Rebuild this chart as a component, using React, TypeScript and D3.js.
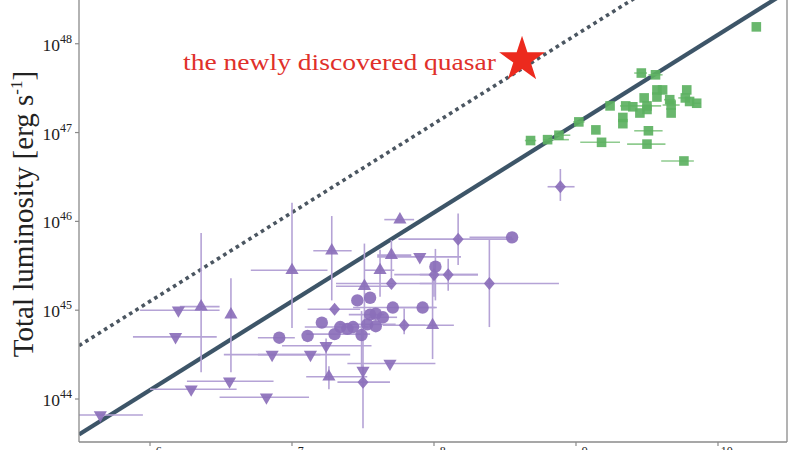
import * as d3 from "d3";

// log10 black hole mass / log10 luminosity, errors in dex: [logM, logL, xLo, xHi, yLo, yHi]
const purpleCircles = [
  [8.55, 45.82, 0.3, 0, 0, 0],
  [8.01, 45.49, 0, 0, 0.38, 0.2],
  [7.46, 45.11, 0, 0, 0, 0],
  [7.55, 45.14, 0, 0, 0, 0],
  [7.71, 45.03, 0.28, 0.31, 0, 0],
  [7.92, 45.03, 0.2, 0.09, 0, 0],
  [7.55, 44.95, 0.15, 0.1, 0, 0],
  [7.59, 44.96, 0, 0, 0, 0],
  [7.64, 44.92, 0.1, 0.1, 0, 0],
  [7.21, 44.86, 0, 0, 0, 0],
  [7.53, 44.84, 0.2, 0.2, 0, 0],
  [7.59, 44.82, 0, 0, 0, 0],
  [7.34, 44.81, 0.25, 0.2, 0, 0],
  [7.43, 44.81, 0, 0, 0, 0],
  [7.39, 44.79, 0, 0, 0, 0],
  [6.91, 44.69, 0.15, 0.11, 0, 0],
  [7.11, 44.71, 0, 0, 0, 0],
  [7.49, 44.72, 0, 0, 0.37, 0.27],
  [7.3, 44.73, 0.2, 0.25, 0, 0],
];

const purpleDiamonds = [
  [8.89, 46.39, 0.09, 0.1, 0.16, 0.2],
  [8.17, 45.8, 0.42, 0.39, 0.29, 0.29],
  [8.39, 45.3, 0.49, 0.49, 0.49, 0.5],
  [7.7, 45.3, 0.39, 0.3, 0, 0],
  [8.0, 45.4, 0.28, 0.31, 0.25, 0.15],
  [8.1, 45.4, 0.2, 0.21, 0.18, 0.18],
  [7.3, 45.01, 0.19, 0.18, 0, 0],
  [7.79, 44.83, 0.15, 0.15, 0.1, 0.19],
  [7.5, 44.19, 0.18, 0.19, 0.52, 0.19],
];

const purpleUp = [
  [7.76, 46.02, 0.11, 0.1, 0, 0],
  [7.0, 45.45, 0.29, 0.25, 0.65, 0.76],
  [7.28, 45.67, 0.13, 0.14, 0.56, 0.39],
  [6.36, 45.04, 0.15, 0.13, 0.74, 0.83],
  [6.57, 44.95, 0, 0, 0.65, 0.41],
  [7.7, 45.62, 0.1, 0.14, 0.25, 0.17],
  [7.62, 45.45, 0.11, 0.1, 0.3, 0.23],
  [7.51, 45.27, 0.2, 0.2, 0.46, 0.48],
  [7.99, 44.83, 0.18, 0.15, 0.38, 0.53],
  [7.26, 44.25, 0.16, 0.27, 0.14, 0.12],
];

const purpleDown = [
  [7.9, 45.6, 0.3, 0.29, 0, 0],
  [7.24, 44.6, 0.31, 0.32, 0.37, 0.08],
  [6.86, 44.5, 0.34, 0.34, 0, 0],
  [7.13, 44.5, 0.37, 0.28, 0, 0],
  [7.69, 44.4, 0.3, 0.32, 0, 0],
  [7.5, 44.32, 0, 0, 0.04, 0.48],
  [6.56, 44.2, 0.3, 0.31, 0, 0],
  [6.29, 44.11, 0.29, 0.32, 0, 0],
  [6.82, 44.02, 0.33, 0.3, 0, 0],
  [6.2, 45.0, 0.27, 0.29, 0, 0],
  [6.18, 44.7, 0.3, 0.29, 0, 0],
  [5.65, 43.82, 0.15, 0.3, 0, 0],
];

const greenSquares = [
  [10.27, 48.19, 0, 0, 0, 0],
  [9.46, 47.67, 0.05, 0.04, 0, 0],
  [9.56, 47.65, 0.05, 0.05, 0, 0],
  [9.57, 47.48, 0, 0, 0, 0],
  [9.61, 47.48, 0, 0, 0, 0],
  [9.78, 47.48, 0, 0, 0, 0],
  [9.57, 47.4, 0, 0, 0, 0],
  [9.48, 47.39, 0, 0, 0, 0],
  [9.66, 47.37, 0.04, 0.04, 0, 0],
  [9.77, 47.39, 0.05, 0.04, 0, 0],
  [9.8, 47.35, 0, 0, 0, 0],
  [9.85, 47.33, 0.03, 0.03, 0, 0],
  [9.67, 47.31, 0.06, 0.06, 0, 0],
  [9.24, 47.3, 0, 0, 0, 0],
  [9.35, 47.3, 0.04, 0.03, 0, 0],
  [9.4, 47.29, 0, 0, 0, 0],
  [9.5, 47.3, 0.12, 0.1, 0, 0],
  [9.5, 47.26, 0, 0, 0, 0],
  [9.45, 47.22, 0, 0, 0, 0],
  [9.67, 47.22, 0, 0, 0, 0],
  [9.33, 47.17, 0, 0, 0, 0],
  [9.33, 47.1, 0, 0, 0, 0],
  [9.02, 47.12, 0.04, 0.04, 0, 0],
  [9.14, 47.03, 0, 0, 0, 0],
  [9.51, 47.02, 0.1, 0.1, 0, 0],
  [8.88, 46.97, 0.03, 0.08, 0, 0],
  [8.8, 46.92, 0.03, 0.15, 0, 0],
  [8.68, 46.91, 0.04, 0.04, 0, 0],
  [9.18, 46.89, 0.15, 0.13, 0, 0],
  [9.5, 46.87, 0.14, 0.13, 0, 0],
  [9.76, 46.68, 0.16, 0.07, 0, 0],
];

const quasar = [8.62, 47.82];
const xTicks = [6, 7, 8, 9, 10];
const yTicks = [44, 45, 46, 47, 48];
// L_Edd = 1.26e38 M  and 10 L_Edd
const eddOffsets = [38.1, 39.1];

const W = 800;
const H = 450;
const left = 79;
const right = 787;
const bottom = 442;
const top = -10;

const x = d3.scaleLinear().domain([5.5, 10.486]).range([left, right]);
const y = d3.scaleLinear().domain([43.516, 48.605]).range([bottom, top]);

const serif = "'Liberation Serif', 'DejaVu Serif', serif";
const purple = "#8b6fba";
const purpleErr = "#b5a3d6";
const green = "#5cb161";
const greenErr = "#8fcb8f";

const ErrBars = ({ pts, color }) => (
  <g stroke={color} strokeWidth={1.6} fill="none">
    {pts.map((p, i) => (
      <g key={i}>
        {p[2] + p[3] > 0 && (
          <line x1={x(p[0] - p[2])} x2={x(p[0] + p[3])} y1={y(p[1])} y2={y(p[1])} />
        )}
        {p[4] + p[5] > 0 && (
          <line x1={x(p[0])} x2={x(p[0])} y1={y(p[1] - p[4])} y2={y(p[1] + p[5])} />
        )}
      </g>
    ))}
  </g>
);

const sym = (type, size) => d3.symbol().type(type).size(size)();

const upTri = sym(d3.symbolTriangle, 75);
const downTri = sym(d3.symbolTriangle, 75);
const diamond = "M0,-6.5L5.5,0L0,6.5L-5.5,0Z";
const square = sym(d3.symbolSquare, 92);
const star = sym(d3.symbolStar, 650);

export default function App() {
  const eddLines = eddOffsets.map((off) => [
    [5.5, 5.5 + off],
    [10.486, 10.486 + off],
  ]);
  const line = d3
    .line()
    .x((d) => x(d[0]))
    .y((d) => y(d[1]));

  return (
    <svg width={W} height={H} style={{ position: "absolute", left: 0, top: 0, background: "#fff" }}>
      <defs>
        <clipPath id="plot">
          <rect x={left} y={top} width={right - left} height={bottom - top} />
        </clipPath>
      </defs>
      <rect width={W} height={H} fill="#fff" />

      <g clipPath="url(#plot)">
        <path d={line(eddLines[1])} stroke="#4b5661" strokeWidth={3.6} strokeDasharray="3.6 3.8" fill="none" />
        <path d={line(eddLines[0])} stroke="#3d5568" strokeWidth={4.2} fill="none" />

        <ErrBars pts={[...purpleCircles, ...purpleDiamonds, ...purpleUp, ...purpleDown]} color={purpleErr} />
        <ErrBars pts={greenSquares} color={greenErr} />

        <g fill={purple} fillOpacity={0.92}>
          {purpleCircles.map((p, i) => (
            <circle key={i} cx={x(p[0])} cy={y(p[1])} r={6.2} />
          ))}
          {purpleDiamonds.map((p, i) => (
            <path key={i} d={diamond} transform={`translate(${x(p[0])},${y(p[1])})`} />
          ))}
          {purpleUp.map((p, i) => (
            <path key={i} d={upTri} transform={`translate(${x(p[0])},${y(p[1])})`} />
          ))}
          {purpleDown.map((p, i) => (
            <path key={i} d={downTri} transform={`translate(${x(p[0])},${y(p[1])}) rotate(180)`} />
          ))}
        </g>
        <g fill={green} fillOpacity={0.92}>
          {greenSquares.map((p, i) => (
            <path key={i} d={square} transform={`translate(${x(p[0])},${y(p[1])})`} />
          ))}
        </g>

        <path d={star} fill="#ec2a1e" transform={`translate(${x(quasar[0])},${y(quasar[1])})`} />
      </g>

      <text x={183} y={70} fill="#e0302a" fontFamily={serif} fontSize={24} textLength={313} lengthAdjust="spacingAndGlyphs">
        the newly discovered quasar
      </text>

      {/* spines */}
      <g stroke="#8a8a8a" strokeWidth={1.3} fill="none">
        <line x1={left} x2={left} y1={top} y2={bottom} />
        <line x1={right} x2={right} y1={top} y2={bottom} />
        <line x1={left} x2={right} y1={bottom} y2={bottom} />
      </g>

      {/* y ticks */}
      {yTicks.map((t) => (
        <g key={t}>
          <line x1={left - 4} x2={left} y1={y(t)} y2={y(t)} stroke="#8a8a8a" strokeWidth={1.2} />
          <text x={72} y={y(t) + 7} textAnchor="end" fontFamily={serif} fontSize={17.5} fill="#222">
            10
            <tspan dy={-8} fontSize={12}>{t}</tspan>
          </text>
        </g>
      ))}

      {/* x ticks */}
      {xTicks.map((t) => (
        <g key={t}>
          <line x1={x(t)} x2={x(t)} y1={bottom} y2={bottom + 4} stroke="#8a8a8a" strokeWidth={1.2} />
          <text x={x(t)} y={463} textAnchor="middle" fontFamily={serif} fontSize={17.5} fill="#222">
            10
            <tspan dy={-8} fontSize={12}>{t}</tspan>
          </text>
        </g>
      ))}

      <text
        transform="translate(33,214) rotate(-90)"
        textAnchor="middle"
        fontFamily={serif}
        fontSize={29}
        fill="#222"
      >
        Total luminosity [erg s<tspan dy={-11} fontSize={17}>-1</tspan>
        <tspan dy={11}>]</tspan>
      </text>
    </svg>
  );
}
